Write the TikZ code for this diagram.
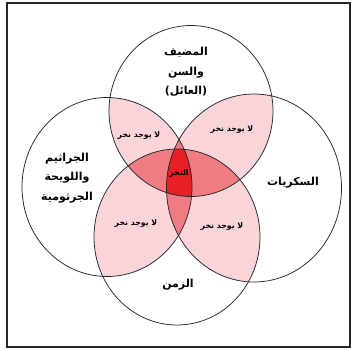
\documentclass[tikz,border=0pt]{standalone}
\usepackage{fontspec}
\TeXXeTstate=1
\newfontfamily\arabicfont[Script=Arabic]{DejaVu Sans}
\definecolor{lightpink}{HTML}{F9D5DA}
\definecolor{midred}{HTML}{EF7C83}
\definecolor{brightred}{HTML}{E81F27}
\begin{document}
\begin{tikzpicture}[x=1pt,y=-1pt,
  ring/.style={draw=black!85,line width=0.75pt},
  biglabel/.style={font=\arabicfont\bfseries\fontsize{11}{19.5}\selectfont,align=center,text=black},
  smalllabel/.style={font=\arabicfont\bfseries\fontsize{7.8}{9}\selectfont,text=black}]
\useasboundingbox (0,0) rectangle (351,349);
\fill[white] (0,0) rectangle (351,349);
\draw[line width=1.4pt,black!85] (7,3) rectangle (350,347);
\coordinate (cT) at (191,111);
\coordinate (cL) at (107,187);
\coordinate (cR) at (254,188);
\coordinate (cB) at (177,237);
\def\eT{(cT) ellipse [x radius=82,y radius=85.5]}
\def\eL{(cL) ellipse [x radius=85,y radius=89.5]}
\def\eR{(cR) ellipse [x radius=87.5,y radius=94]}
\def\eB{(cB) ellipse [x radius=83,y radius=88]}
% light pink pairwise overlaps
\begin{scope}\clip \eT; \fill[lightpink] \eL; \fill[lightpink] \eR; \end{scope}
\begin{scope}\clip \eB; \fill[lightpink] \eL; \fill[lightpink] \eR; \end{scope}
% medium lenses
\begin{scope}\clip \eL; \fill[midred] \eR; \end{scope}
\begin{scope}\clip \eT; \fill[midred] \eB; \end{scope}
% centre
\begin{scope}\clip \eL; \clip \eR; \clip \eT; \fill[brightred] \eB; \end{scope}
% circles
\draw[ring] \eT;
\draw[ring] \eL;
\draw[ring] \eR;
\draw[ring] \eB;
% labels
\node[biglabel] (tT) at (186,72) {\beginR المضيف\endR\\\beginR والسن\endR\\\beginR (العائل)\endR};
\node[biglabel] (tL) at (67,178) {\beginR الجراثيم\endR\\\beginR واللويحة\endR\\\beginR الجرثومية\endR};
\node[biglabel] (tR) at (293,183) {\beginR السكريات\endR};
\node[biglabel] (tB) at (178,285) {\beginR الزمن\endR};
\node[smalllabel] (n1) at (139,135) {\beginR لا يوجد نخر\endR};
\node[smalllabel] (n2) at (232,129) {\beginR لا يوجد نخر\endR};
\node[smalllabel] (n3) at (136,223) {\beginR لا يوجد نخر\endR};
\node[smalllabel] (n4) at (222,226) {\beginR لا يوجد نخر\endR};
\node[smalllabel] (nc) at (179,173) {\beginR النخر\endR};
\end{tikzpicture}
\end{document}
